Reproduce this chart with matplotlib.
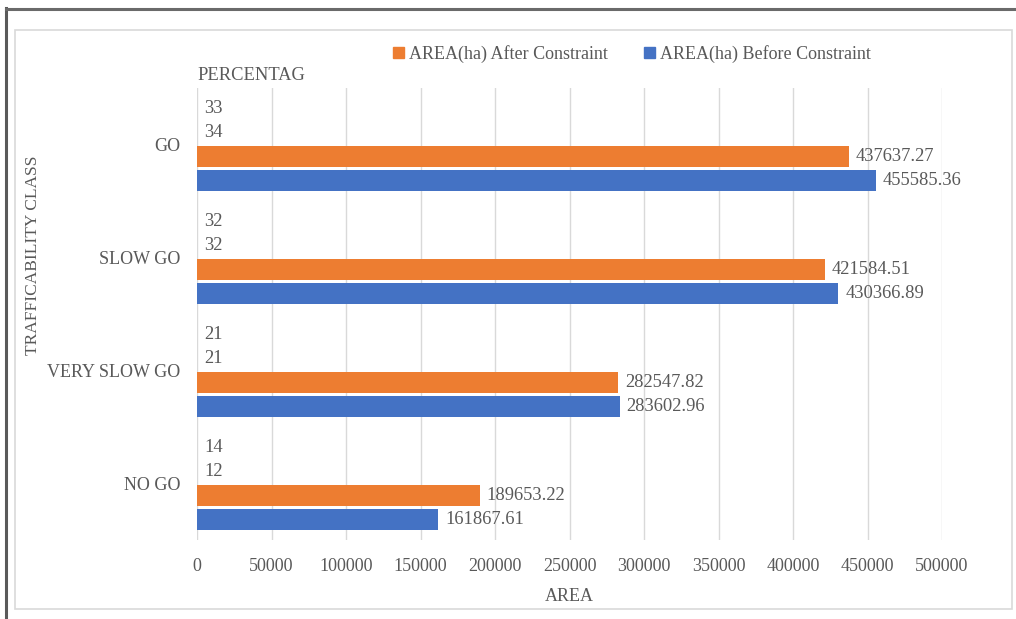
import matplotlib.pyplot as plt
import matplotlib.patches as mpatches
import numpy as np

# data (bottom to top on the chart)
classes = ["NO GO", "VERY SLOW GO", "SLOW GO", "GO"]
pct_after = [14, 21, 32, 33]
pct_before = [12, 21, 32, 34]
area_after = [189653.22, 282547.82, 421584.51, 437637.27]
area_before = [161867.61, 283602.96, 430366.89, 455585.36]
xticks = [0, 50000, 100000, 150000, 200000, 250000, 300000, 350000, 400000, 450000, 500000]

ORANGE = "#ED7D31"
BLUE = "#4472C4"
GRAY = "#595959"

plt.rcParams['font.family'] = ['Liberation Serif', 'DejaVu Serif']

fig = plt.figure(figsize=(10.16, 6.19), dpi=100)

# page border + chart border
fig.add_artist(plt.Line2D([6/1016, 6/1016], [0, 1 - 8/619], color="#5a5a5a", lw=2.2))
fig.add_artist(plt.Line2D([6/1016, 1], [1 - 9/619, 1 - 9/619], color="#6a6a6a", lw=2.2))
fig.add_artist(mpatches.Rectangle((15/1016, 1 - 609/619), (1012 - 15)/1016, (609 - 30)/619,
                                  transform=fig.transFigure, fill=False, ec="#d9d9d9", lw=1.2))

ax = fig.add_axes([197/1016, 1 - 540/619, (942 - 197)/1016, (540 - 88)/619])

y = np.arange(len(classes))
slot = 0.212
h = slot * 0.85
series = [
    (pct_after, "none", 1.5, "{:.0f}"),
    (pct_before, "none", 0.5, "{:.0f}"),
    (area_after, ORANGE, -0.5, "{:.2f}"),
    (area_before, BLUE, -1.5, "{:.2f}"),
]
for vals, col, off, fmt in series:
    bars = ax.barh(y + off * slot, vals, height=h, color=col, zorder=3)
    ax.bar_label(bars, labels=[fmt.format(v) for v in vals], padding=5,
                 fontsize=13.3, color=GRAY)

ax.set_xlim(0, 500000)
ax.set_ylim(-0.5, 3.5)
ax.set_xticks(xticks)
ax.set_xticklabels([str(t) for t in xticks], fontsize=13, color=GRAY)
ax.set_yticks(y)
ax.set_yticklabels(classes, fontsize=13, color=GRAY)
ax.tick_params(axis='both', length=0)
ax.tick_params(axis='x', pad=13)
ax.tick_params(axis='y', pad=12)
ax.grid(axis='x', color="#d9d9d9", lw=1, zorder=0)
for s in ax.spines.values():
    s.set_visible(False)

ax.set_xlabel("AREA", fontsize=13, color=GRAY, labelpad=9)
fig.text(33/1016, 1 - 255/619, "TRAFFICABILITY CLASS", rotation=90, fontsize=12.5,
         color=GRAY, ha='center', va='center')
fig.text(197/1016, 1 - 75/619, "PERCENTAG", fontsize=13.3, color=GRAY, ha='left', va='center')

handles = [mpatches.Patch(color=ORANGE, label="AREA(ha) After Constraint"),
           mpatches.Patch(color=BLUE, label="AREA(ha) Before Constraint")]
leg = fig.legend(handles=handles, loc='center', bbox_to_anchor=(632/1016, 1 - 54/619),
                 ncol=2, frameon=False, fontsize=13, handlelength=0.6, handleheight=0.6,
                 handletextpad=0.3, columnspacing=2.0)
for t in leg.get_texts():
    t.set_color(GRAY)

fig.savefig("out.png", dpi=100)
